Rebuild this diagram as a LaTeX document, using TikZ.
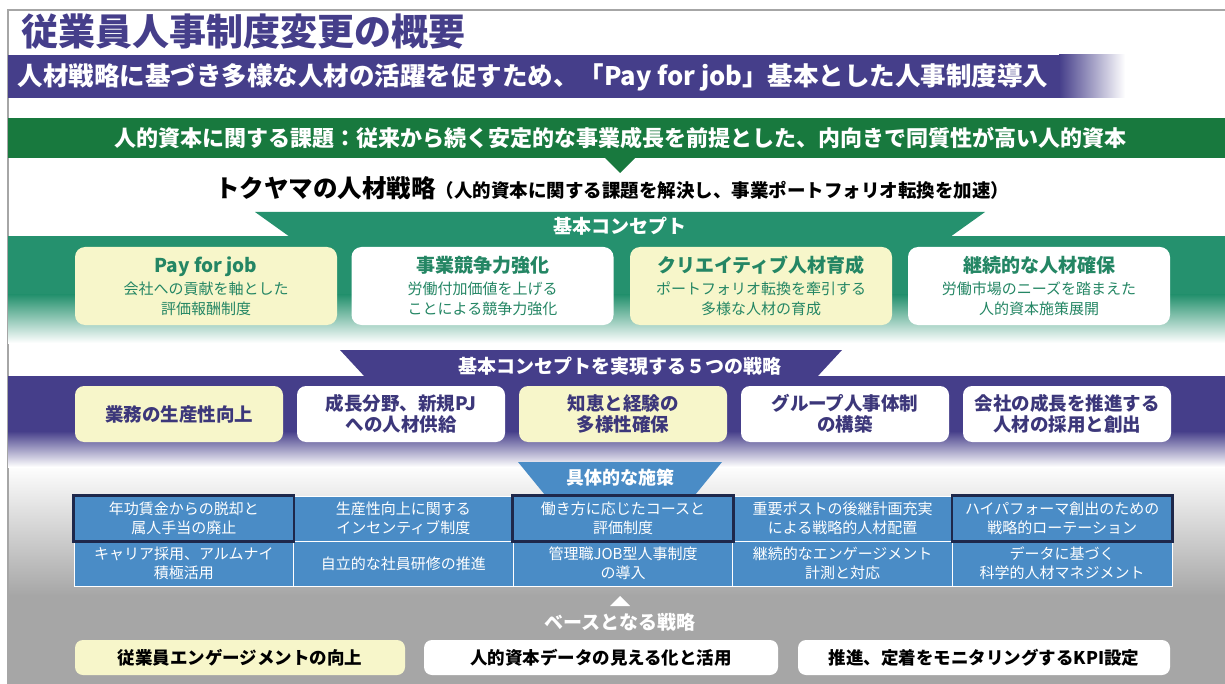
\documentclass[tikz,border=0pt]{standalone}
\usepackage{fontspec}
\setmainfont{Noto Sans CJK JP}
\definecolor{hrpurple}{RGB}{69,62,138}
\definecolor{hrpurpletext}{RGB}{60,55,122}
\definecolor{hrgreen}{RGB}{24,121,62}
\definecolor{hrteal}{RGB}{37,145,110}
\definecolor{hrtealtext}{RGB}{36,134,100}
\definecolor{hryellow}{RGB}{247,246,202}
\definecolor{hrblue}{RGB}{74,140,198}
\definecolor{hrnavy}{RGB}{30,40,75}
\definecolor{hrgray}{RGB}{166,166,166}
\begin{document}
\begin{tikzpicture}[
                x=1pt, y=-1pt,
                concept/.style={rounded corners=10pt, minimum width=262pt, minimum height=78pt,
                    align=center, inner sep=0pt, text=hrtealtext, font=\fontsize{15}{20}\selectfont},
                strat/.style={rounded corners=9pt, minimum width=208pt, minimum height=56pt,
                    align=center, inner sep=0pt, text=hrpurpletext, font=\fontsize{18.5}{21}\selectfont\bfseries},
                cell/.style={fill=hrblue, draw=white, line width=1pt, minimum width=219.6pt,
                    minimum height=45pt, align=center, inner sep=0pt, text=white,
                    font=\fontsize{15}{19}\selectfont},
                basebox/.style={rounded corners=8pt, minimum height=35pt, inner sep=0pt,
                    font=\fontsize{17.5}{20}\selectfont\bfseries},
                tabtext/.style={text=white, font=\fontsize{19}{22}\selectfont\bfseries}
            ]
            \useasboundingbox (0,0) rectangle (1225,684);
            \fill[white] (0,0) rectangle (1225,684);

            % 背景
            \shade[top color=white, bottom color=hrgray] (8,465) rectangle (1225,596);
            \fill[hrgray] (8,595) rectangle (1225,684);
            \draw[gray!70, line width=1.5pt] (8,684) -- (8,10) -- (1225,10);

            % タイトル
            \node[anchor=west, text=hrpurple, font=\fontsize{37}{40}\selectfont\bfseries] (title) at (18,32) {従業員人事制度変更の概要};
            \fill[hrpurple] (8,55) rectangle (1060,98);
            \shade[left color=hrpurple, right color=white] (1059,55) rectangle (1125,98);
            \node[anchor=west, text=white, font=\fontsize{25.5}{28}\selectfont\bfseries] (lead) at (14,77)
                {人材戦略に基づき多様な人材の活躍を促すため、「Pay for job」基本とした人事制度導入};

            % 課題
            \fill[hrgreen] (8,118) rectangle (1225,158);
            \node[text=white, font=\fontsize{22}{25}\selectfont\bfseries] (issue) at (620,138)
                {人的資本に関する課題：従来から続く安定的な事業成長を前提とした、内向きで同質性が高い人的資本};
            \fill[hrgreen] (604,157) -- (636,157) -- (620,173) -- cycle;

            \node[font=\bfseries] (policy) at (612,188)
                {{\fontsize{24.5}{28}\selectfont トクヤマの人材戦略}{\fontsize{18.5}{22}\selectfont （人的資本に関する課題を解決し、事業ポートフォリオ転換を加速）}};

            % 基本コンセプト
            \fill[hrteal] (255,212) -- (985,212) -- (950,237) -- (290,237) -- cycle;
            \fill[hrteal] (8,236) rectangle (1225,296);
            \shade[top color=hrteal, bottom color=white] (8,295) rectangle (1225,343);
            \node[tabtext] (concepthead) at (620,226) {基本コンセプト};
            \foreach \i/\cx/\fc/\hd/\sub in {
                1/206/hryellow/{Pay for job}/{会社への貢献を軸とした\\評価報酬制度},
                2/482.5/white/{事業競争力強化}/{労働付加価値を上げる\\ことによる競争力強化},
                3/761/hryellow/{クリエイティブ人材育成}/{ポートフォリオ転換を牽引する\\多様な人材の育成},
                4/1039/white/{継続的な人材確保}/{労働市場のニーズを踏まえた\\人的資本施策展開}}
            {
                \node[concept, fill=\fc] (concept\i) at (\cx,286)
                    {{\fontsize{19}{20}\selectfont\bfseries \hd}\\[2pt]\sub};
            }

            % ５つの戦略
            \fill[hrpurple] (340,350) -- (842,350) -- (817,377) -- (365,377) -- cycle;
            \fill[hrpurple] (8,376) rectangle (1225,432);
            \shade[top color=hrpurple, bottom color=white] (8,431) rectangle (1225,467);
            \node[tabtext] (strathead) at (620,366) {基本コンセプトを実現する５つの戦略};
            \foreach \i/\fc/\txt in {
                1/hryellow/{業務の生産性向上},
                2/white/{成長分野、新規PJ\\への人材供給},
                3/hryellow/{知恵と経験の\\多様性確保},
                4/white/{グループ人事体制\\の構築},
                5/white/{会社の成長を推進する\\人材の採用と創出}}
            {
                \node[strat, fill=\fc] (strat\i) at ({179+222*(\i-1)},414) {\txt};
            }

            % 具体的な施策
            \fill[hrblue] (518,462) -- (722,462) -- (695,495) -- (545,495) -- cycle;
            \node[tabtext, font=\fontsize{18}{22}\selectfont\bfseries] (measurehead) at (620,478) {具体的な施策};
            \foreach \i/\txa/\txb in {
                1/{年功賃金からの脱却と\\属人手当の廃止}/{キャリア採用、アルムナイ\\積極活用},
                2/{生産性向上に関する\\インセンティブ制度}/{自立的な社員研修の推進},
                3/{働き方に応じたコースと\\評価制度}/{管理職JOB型人事制度\\の導入},
                4/{重要ポストの後継計画充実\\による戦略的人材配置}/{継続的なエンゲージメント\\計測と対応},
                5/{ハイパフォーマ創出のための\\戦略的ローテーション}/{データに基づく\\科学的人材マネジメント}}
            {
                \node[cell] (upper\i) at ({74+219.6*(\i-0.5)},518.5) {\txa};
                \node[cell] (lower\i) at ({74+219.6*(\i-0.5)},563.5) {\txb};
            }
            \foreach \i in {1,3,5}
                \draw[hrnavy, line width=2.5pt] (upper\i.north west) rectangle (upper\i.south east);

            % ベースとなる戦略
            \fill[white] (610,606) -- (630,606) -- (620,596) -- cycle;
            \node[tabtext] (basehead) at (620,622) {ベースとなる戦略};
            \node[basebox, fill=hryellow, minimum width=330pt] (base1) at (240,657.5) {従業員エンゲージメントの向上};
            \node[basebox, fill=white, minimum width=354pt] (base2) at (601,657.5) {人的資本データの見える化と活用};
            \node[basebox, fill=white, minimum width=372pt] (base3) at (984,657.5) {推進、定着をモニタリングするKPI設定};
        \end{tikzpicture}
\end{document}
